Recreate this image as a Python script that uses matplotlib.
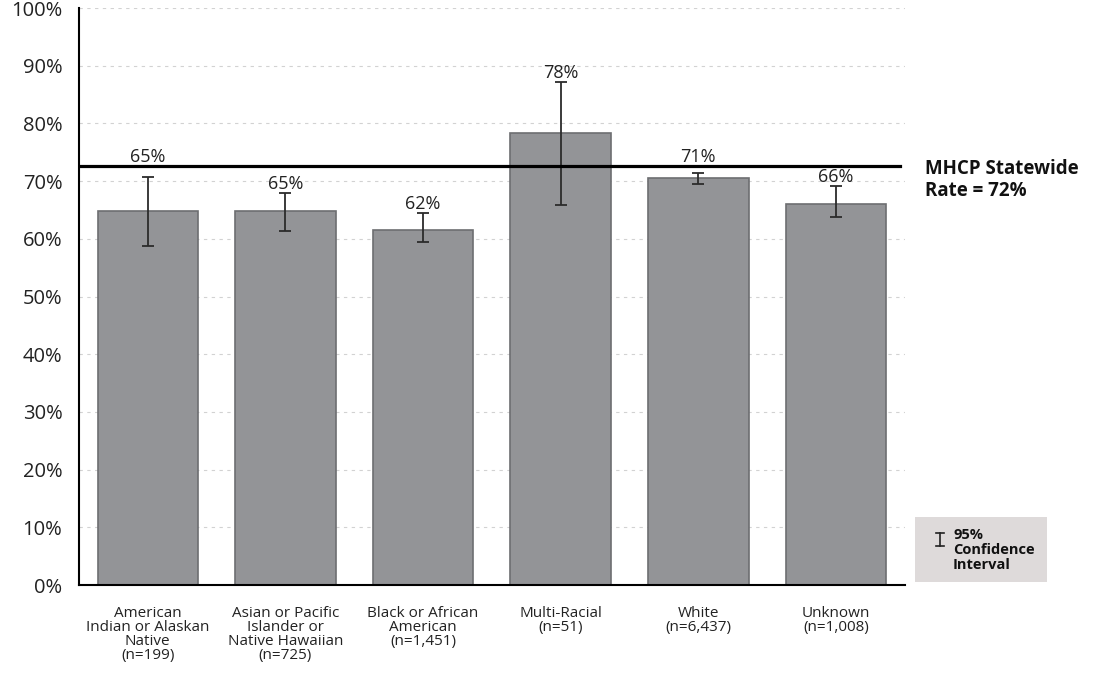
import matplotlib
matplotlib.use("Agg")
import matplotlib.pyplot as plt
from matplotlib.patches import Rectangle
import numpy as np

# data
groups = ["American\nIndian or Alaskan\nNative\n(n=199)",
          "Asian or Pacific\nIslander or\nNative Hawaiian\n(n=725)",
          "Black or African\nAmerican\n(n=1,451)",
          "Multi-Racial\n(n=51)",
          "White\n(n=6,437)",
          "Unknown\n(n=1,008)"]
rates = [64.8, 64.8, 61.6, 78.4, 70.5, 66.0]
ci_low = [58.8, 61.4, 59.5, 65.8, 69.5, 63.7]
ci_high = [70.8, 67.9, 64.5, 87.1, 71.4, 69.1]
rate_labels = ["65%", "65%", "62%", "78%", "71%", "66%"]
statewide_rate = 72.6

plt.rcParams['font.family'] = ['Open Sans', 'DejaVu Sans']

fig = plt.figure(figsize=(10.94, 6.75), dpi=100)
ax = fig.add_axes([0.0722, 0.1333, 0.7548, 0.8548])

x = np.arange(len(groups))
yerr = [np.array(rates) - np.array(ci_low), np.array(ci_high) - np.array(rates)]
ax.bar(x, rates, width=0.73, color="#939497", edgecolor="#6d6e71", linewidth=1.2, zorder=2)
ax.errorbar(x, rates, yerr=yerr, fmt="none", ecolor="#2b2b2b", elinewidth=1.3,
            capsize=4.5, capthick=1.3, zorder=3)

ax.axhline(statewide_rate, xmin=0, xmax=0.994, color="black", linewidth=2.3, zorder=4)

# value labels (pushed above the statewide line where they would hit it)
for i in range(len(groups)):
    y = ci_high[i] + 1.6
    if abs(y - statewide_rate) < 1.3:
        y = statewide_rate + 1.5
    ax.text(x[i], y, rate_labels[i], ha="center", va="center", fontsize=13, color="#222222", zorder=5)

ax.set_xlim(-0.5, 5.5)
ax.set_ylim(0, 100)
ax.set_yticks(np.arange(0, 101, 10))
ax.set_yticklabels([f"{v}%" for v in range(0, 101, 10)], fontsize=14.5, color="#222222")
ax.set_xticks(x)
ax.set_xticklabels(groups, fontsize=11, color="#222222", linespacing=0.92)
ax.tick_params(axis="both", length=0)
ax.tick_params(axis="y", pad=12)
ax.tick_params(axis="x", pad=15)
ax.yaxis.grid(True, linestyle=(0, (3, 4)), color="#d2d2d2", linewidth=0.8, zorder=0)
ax.set_axisbelow(True)
for s in ["top", "right"]:
    ax.spines[s].set_visible(False)
ax.spines["left"].set_linewidth(1.5)
ax.spines["bottom"].set_linewidth(1.5)

fig.text(925 / 1094, 1 - 180 / 675, "MHCP Statewide\nRate = 72%", fontsize=13.5,
         fontweight="bold", ha="left", va="center", linespacing=1.1, color="#111111")

# confidence interval legend box
fig.patches.append(Rectangle((915 / 1094, 1 - 582 / 675), 132 / 1094, 65 / 675,
                             transform=fig.transFigure, facecolor="#dedada", edgecolor="none"))
ix = 940 / 1094
fig.add_artist(plt.Line2D([ix, ix], [1 - 533 / 675, 1 - 546 / 675], transform=fig.transFigure,
                          color="#222222", linewidth=1.2))
for yy in [533, 546]:
    fig.add_artist(plt.Line2D([ix - 4 / 1094, ix + 4 / 1094], [1 - yy / 675, 1 - yy / 675],
                              transform=fig.transFigure, color="#222222", linewidth=1.2))
fig.text(953 / 1094, 1 - 550 / 675, "95%\nConfidence\nInterval", fontsize=10.5,
         fontweight="bold", ha="left", va="center", linespacing=1.05, color="#111111")

fig.savefig("out.png", dpi=100)
